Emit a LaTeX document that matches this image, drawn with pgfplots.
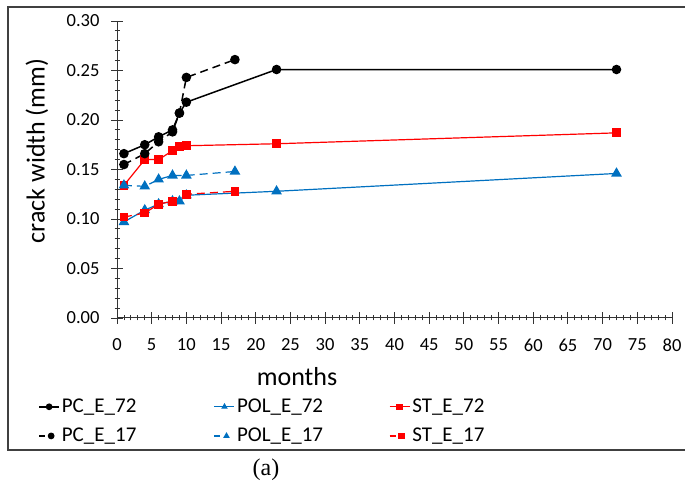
\documentclass[border=0pt]{standalone}
\usepackage{pgfplots}
\pgfplotsset{compat=1.18}
\usepackage{fontspec}
\setmainfont{Carlito}
\newfontfamily\timesf{Liberation Serif}
\definecolor{xblue}{HTML}{0070C0}
\definecolor{xred}{HTML}{FF0000}
\pgfplotsset{dashlegend/.style={legend image code/.code={\draw[solid] (0pt,0pt) -- (6pt,0pt); \draw[solid, mark size=2.6pt] plot coordinates {(12pt,0pt)};}}}
\begin{document}
\begin{tikzpicture}[x=1pt,y=1pt]
\path[use as bounding box] (0,0) rectangle (685,484);
\draw[line width=1.1pt, black!75] (690,477) -- (8,477) -- (8,34) -- (690,34);
\begin{axis}[
  at={(117pt,166pt)}, anchor=south west,
  scale only axis, width=555pt, height=297pt,
  xmin=0, xmax=80, ymin=0, ymax=0.30,
  axis x line=bottom, axis y line=left,
  axis line style={-, line width=1pt, black!80},
  xtick={0,5,...,80}, ytick={0,0.05,...,0.30},
  minor x tick num=4, minor y tick num=4,
  major tick length=12pt, minor tick length=5pt,
  major tick style={line width=0.9pt, black!80},
  minor tick style={line width=0.8pt, black!80},
  tick align=center,
  minor tick style={/pgfplots/tick align=inside},
  /pgf/number format/assume math mode=true,
  yticklabel style={/pgf/number format/fixed, /pgf/number format/fixed zerofill, /pgf/number format/precision=2, font=\fontsize{18.5}{20}\selectfont, xshift=-8pt},
  xticklabel style={font=\fontsize{18.5}{20}\selectfont, yshift=-11pt},
  scaled y ticks=false,
  legend columns=3,
  legend cell align=left,
  legend style={draw=none, fill=none, at={(-0.142,-0.348)}, anchor=west, inner sep=0pt,
    font=\fontsize{21}{22}\selectfont, row sep=10pt},
  legend image code/.code={\draw (0pt,0pt) -- (20pt,0pt); \draw[solid, mark size=2.6pt] plot coordinates {(10pt,0pt)};},
]
\addplot[black, line width=1.5pt, mark=*, mark size=4pt, mark options={solid}] coordinates {
(1,0.166) (4,0.175) (6,0.183) (8,0.190) (9,0.207) (10,0.218) (23,0.251) (72,0.251)};
\addlegendentry{\makebox[150pt][l]{PC\_E\_72}}
\addplot[xblue, line width=1.2pt, mark=triangle*, mark size=5pt, mark options={solid}] coordinates {
(1,0.097) (4,0.109) (6,0.115) (8,0.118) (9,0.118) (10,0.124) (23,0.128) (72,0.146)};
\addlegendentry{\makebox[150pt][l]{POL\_E\_72}}
\addplot[xred, line width=1.2pt, mark=square*, mark size=3.8pt, mark options={solid}] coordinates {
(1,0.134) (4,0.160) (6,0.160) (8,0.169) (9,0.173) (10,0.174) (23,0.176) (72,0.187)};
\addlegendentry{\makebox[150pt][l]{ST\_E\_72}}
\addplot[black, line width=1.5pt, dash pattern=on 8pt off 5pt, mark=*, mark size=4pt, mark options={solid}, dashlegend] coordinates {
(1,0.155) (4,0.166) (6,0.178) (8,0.188) (9,0.207) (10,0.243) (17,0.261)};
\addlegendentry{\makebox[150pt][l]{PC\_E\_17}}
\addplot[xblue, line width=1.2pt, dash pattern=on 8pt off 5pt, mark=triangle*, mark size=5pt, mark options={solid}, dashlegend] coordinates {
(1,0.134) (4,0.133) (6,0.140) (8,0.144) (10,0.144) (17,0.148)};
\addlegendentry{\makebox[150pt][l]{POL\_E\_17}}
\addplot[xred, line width=1.2pt, dash pattern=on 8pt off 5pt, mark=square*, mark size=3.8pt, mark options={solid}, dashlegend] coordinates {
(1,0.102) (4,0.106) (6,0.115) (8,0.118) (10,0.125) (17,0.128)};
\addlegendentry{\makebox[150pt][l]{ST\_E\_17}}
\end{axis}
\node[font=\fontsize{26}{28}\selectfont] at (297,107) {months};
\node[font=\fontsize{26}{28}\selectfont, rotate=90] at (37,333) {crack width (mm)};
\node[font=\timesf\fontsize{24}{26}\selectfont] at (266,14) {(a)};
\end{tikzpicture}
\end{document}
